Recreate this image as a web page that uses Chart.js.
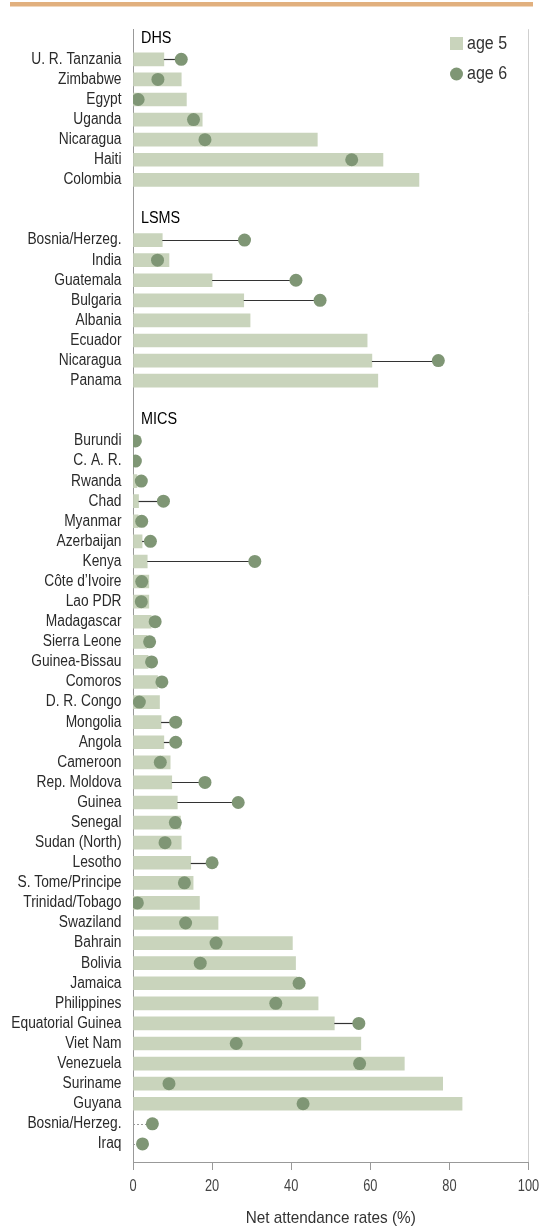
<!DOCTYPE html>
<html>
<head>
<meta charset="UTF-8">
<title>Net attendance rates</title>
<script src="https://cdn.jsdelivr.net/npm/chart.js"></script>
<style>
  html, body { margin: 0; padding: 0; background: #fff; }
  #wrap { position: relative; width: 543px; height: 1228px; }
</style>
</head>
<body>
<div id="wrap"><canvas id="chart"></canvas></div>
<script>
// survey groups, top to bottom
const groupNames = ['DHS', 'LSMS', 'MICS'];

const dhsCountries = ['U. R. Tanzania', 'Zimbabwe', 'Egypt', 'Uganda', 'Nicaragua', 'Haiti', 'Colombia'];
const dhsAge5 = [7.8, 12.2, 13.5, 17.5, 46.6, 63.2, 72.3];
const dhsAge6 = [12.2, 6.3, 1.3, 15.3, 18.2, 55.3, null];

const lsmsCountries = ['Bosnia/Herzeg.', 'India', 'Guatemala', 'Bulgaria', 'Albania', 'Ecuador', 'Nicaragua', 'Panama'];
const lsmsAge5 = [7.4, 9.1, 20.0, 28.0, 29.6, 59.2, 60.4, 61.9];
const lsmsAge6 = [28.2, 6.2, 41.2, 47.3, null, null, 77.2, null];

const micsCountries = ['Burundi', 'C. A. R.', 'Rwanda', 'Chad', 'Myanmar', 'Azerbaijan', 'Kenya',
  'Côte d’Ivoire', 'Lao PDR', 'Madagascar', 'Sierra Leone', 'Guinea-Bissau', 'Comoros', 'D. R. Congo',
  'Mongolia', 'Angola', 'Cameroon', 'Rep. Moldova', 'Guinea', 'Senegal', 'Sudan (North)', 'Lesotho',
  'S. Tome/Principe', 'Trinidad/Tobago', 'Swaziland', 'Bahrain', 'Bolivia', 'Jamaica', 'Philippines',
  'Equatorial Guinea', 'Viet Nam', 'Venezuela', 'Suriname', 'Guyana', 'Bosnia/Herzeg.', 'Iraq'];
const micsAge5 = [null, null, 1.0, 1.4, 1.3, 2.3, 3.6, 4.0, 4.0, 4.6, 3.5, 3.8, 6.2, 6.7,
  7.1, 7.8, 9.4, 9.8, 11.2, 12.0, 12.2, 14.6, 15.2, 16.8, 21.5, 40.3, 41.1, 41.5, 46.8,
  50.9, 57.6, 68.6, 78.3, 83.2, null, null];
const micsAge6 = [0.6, 0.6, 2.1, 7.7, 2.2, 4.4, 30.8, 2.2, 2.1, 5.6, 4.2, 4.7, 7.3, 1.6,
  10.8, 10.8, 6.9, 18.2, 26.6, 10.7, 8.1, 20.0, 13.0, 1.1, 13.3, 21.0, 17.0, 42.0, 36.1,
  57.1, 26.1, 57.3, 9.1, 43.0, 4.9, 2.4];

const xTicks = [0, 20, 40, 60, 80, 100];
const xTitle = 'Net attendance rates (%)';

// build one row list: group header, countries, blank gap
const groups = [
  { name: groupNames[0], countries: dhsCountries, a5: dhsAge5, a6: dhsAge6 },
  { name: groupNames[1], countries: lsmsCountries, a5: lsmsAge5, a6: lsmsAge6 },
  { name: groupNames[2], countries: micsCountries, a5: micsAge5, a6: micsAge6 },
];
const rowLabels = [];
const headerRows = [];
const age5Points = [];
const age6Points = [];
groups.forEach((g, gi) => {
  headerRows.push({ row: rowLabels.length, text: g.name });
  rowLabels.push('');
  g.countries.forEach((c, i) => {
    const row = rowLabels.length;
    rowLabels.push(c);
    if (g.a5[i] !== null) age5Points.push({ x: g.a5[i], y: row });
    if (g.a6[i] !== null) age6Points.push({ x: g.a6[i], y: row, bar: g.a5[i] });
  });
  if (gi < groups.length - 1) rowLabels.push('');
});

const FONT = "'Liberation Sans', Arial, sans-serif";
const BAR_COLOR = '#c9d4bc';
const DOT_COLOR = '#7f9675';

// the reference uses a condensed face, so squeeze text horizontally
function condensedText(ctx, text, x, y, size, sx, align, color) {
  ctx.save();
  ctx.translate(x, y);
  ctx.scale(sx, 1);
  ctx.font = `${size}px ${FONT}`;
  ctx.fillStyle = color;
  ctx.textAlign = align;
  ctx.textBaseline = 'middle';
  ctx.fillText(text, 0, 0);
  ctx.restore();
}

const decorPlugin = {
  id: 'decor',
  beforeDraw(chart) {
    const { ctx } = chart;
    ctx.save();
    ctx.fillStyle = '#fff';
    ctx.fillRect(0, 0, chart.width, chart.height);
    ctx.fillStyle = '#e1b07e';
    ctx.fillRect(10, 2, 523, 4.5);
    ctx.restore();
  },
  // connector lines between bar end and the age 6 dot
  afterDatasetDraw(chart, args) {
    if (args.index !== 0) return;
    const { ctx } = chart;
    const xs = chart.scales.x;
    const ys = chart.scales.y;
    ctx.save();
    age6Points.forEach((p) => {
      const from = p.bar === null ? 0 : p.bar;
      if (p.x <= from) return;
      const y = Math.round(ys.getPixelForValue(p.y)) + 0.5;
      ctx.beginPath();
      if (p.bar === null) {
        ctx.setLineDash([2, 2]);
        ctx.strokeStyle = '#999';
        ctx.lineWidth = 1;
      } else {
        ctx.setLineDash([]);
        ctx.strokeStyle = '#333';
        ctx.lineWidth = 1.2;
      }
      ctx.moveTo(xs.getPixelForValue(from), y);
      ctx.lineTo(xs.getPixelForValue(p.x), y);
      ctx.stroke();
    });
    ctx.restore();
  },
  afterDraw(chart) {
    const { ctx } = chart;
    const xs = chart.scales.x;
    const ys = chart.scales.y;
    // category labels on the y axis
    rowLabels.forEach((l, i) => {
      if (l) condensedText(ctx, l, xs.left - 11.5, ys.getPixelForValue(i), 16, 0.86, 'right', '#2a2a2a');
    });
    // group headers
    headerRows.forEach((h) => {
      condensedText(ctx, h.text, xs.getPixelForValue(0) + 8, ys.getPixelForValue(h.row) - 1, 16, 0.9, 'left', '#000');
    });
    // x tick labels and title
    xs.ticks.forEach((t) => {
      condensedText(ctx, String(t.value), xs.getPixelForValue(t.value), xs.top + 25, 16, 0.8, 'center', '#444');
    });
    condensedText(ctx, xTitle, (xs.left + xs.right) / 2, xs.top + 56, 17, 0.9, 'center', '#333');
    // legend
    const ds = chart.data.datasets;
    ctx.save();
    ctx.fillStyle = BAR_COLOR;
    ctx.fillRect(450, 37, 13, 13);
    ctx.fillStyle = DOT_COLOR;
    ctx.beginPath();
    ctx.arc(456.5, 74, 6.5, 0, Math.PI * 2);
    ctx.fill();
    ctx.restore();
    condensedText(ctx, ds[0].label, 467, 44, 18, 0.89, 'left', '#333');
    condensedText(ctx, ds[1].label, 467, 74, 18, 0.89, 'left', '#333');
  },
};

new Chart(document.getElementById('chart'), {
  type: 'bar',
  data: {
    datasets: [
      {
        label: 'age 5',
        data: age5Points,
        backgroundColor: BAR_COLOR,
        barThickness: 13,
        order: 1,
      },
      {
        type: 'line',
        label: 'age 6',
        data: age6Points,
        showLine: false,
        pointRadius: 6.5,
        pointHoverRadius: 6.5,
        pointBackgroundColor: DOT_COLOR,
        pointBorderWidth: 0,
        order: 0,
      },
    ],
  },
  options: {
    indexAxis: 'y',
    responsive: true,
    maintainAspectRatio: false,
    animation: false,
    layout: { padding: { top: 29.2, right: 14.5, left: 0, bottom: 0 } },
    plugins: { legend: { display: false }, tooltip: { enabled: false } },
    scales: {
      x: {
        type: 'linear',
        position: 'bottom',
        offset: false,
        min: xTicks[0],
        max: xTicks[xTicks.length - 1],
        afterBuildTicks: (s) => { s.ticks = xTicks.map((v) => ({ value: v })); },
        afterFit: (s) => { s.height = 66; },
        grid: {
          offset: false,
          drawOnChartArea: true,
          color: (c) => (c.tick && c.tick.value === 100 ? '#cfcfcf' : 'rgba(0,0,0,0)'),
          tickColor: '#999',
          tickLength: 8,
          lineWidth: 1,
        },
        border: { display: true, color: '#999' },
        ticks: { display: false },
        title: { display: false },
      },
      y: {
        type: 'linear',
        reverse: true,
        offset: false,
        min: -0.5,
        max: 55.9,
        afterFit: (s) => { s.width = 133; },
        afterBuildTicks: (s) => { s.ticks = rowLabels.map((l, i) => ({ value: i })); },
        grid: { display: false, drawTicks: false, offset: false },
        border: { display: true, color: '#999' },
        ticks: { display: false },
      },
    },
  },
  plugins: [decorPlugin],
});
</script>
</body>
</html>
